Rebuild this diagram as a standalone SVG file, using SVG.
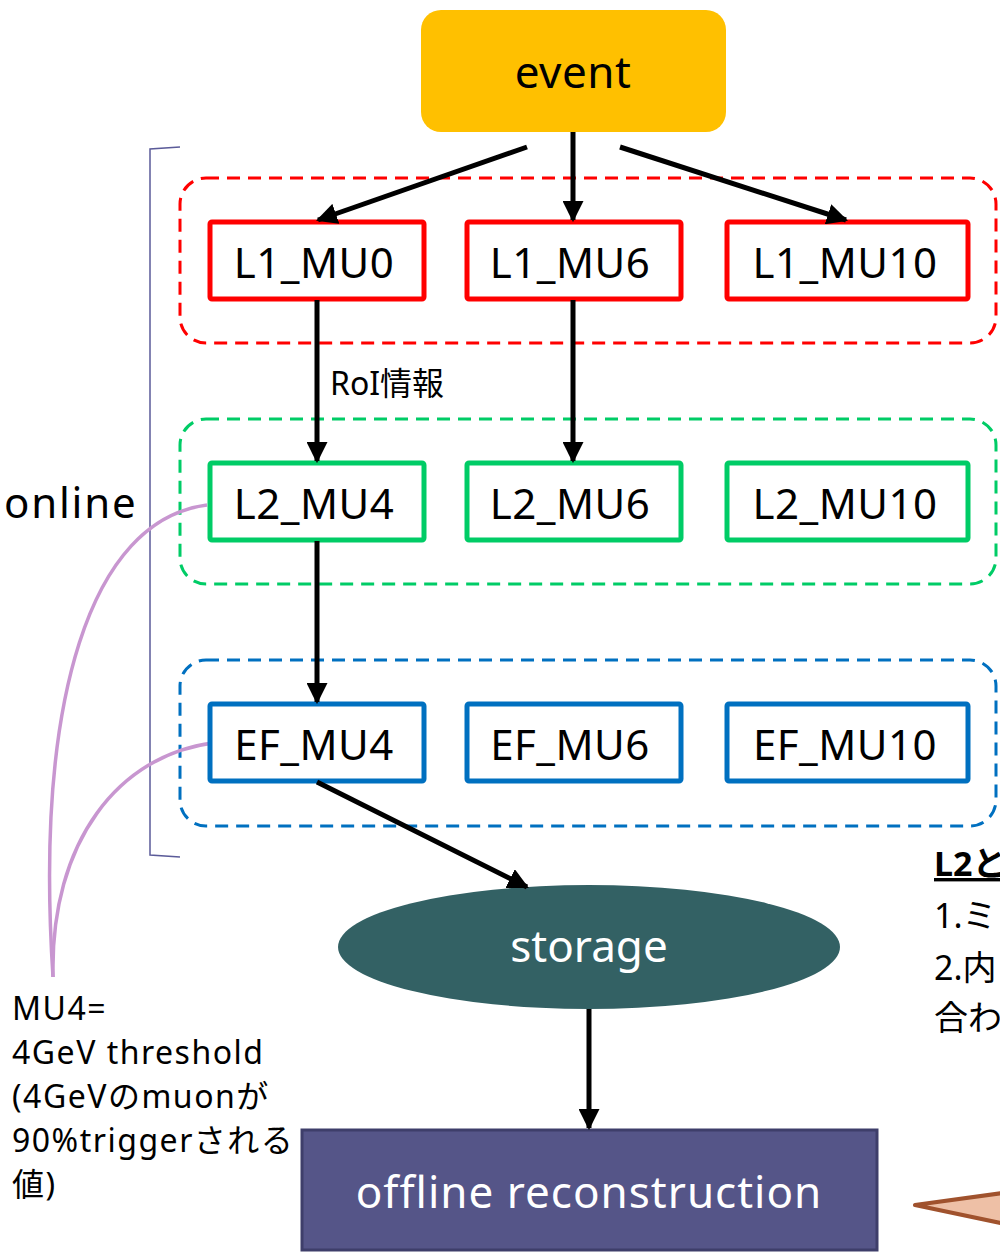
<svg xmlns="http://www.w3.org/2000/svg" width="1000" height="1254" viewBox="0 0 1000 1254">
<defs>
<marker id="ah" viewBox="0 0 10 10" refX="9" refY="5" markerWidth="4.2" markerHeight="4.2" orient="auto" markerUnits="strokeWidth">
<path d="M0,0 L10,5 L0,10 z" fill="#000"/>
</marker>
<style>
text{font-family:"Noto Sans","Noto Sans CJK JP",sans-serif;}
.lbl{font-size:42px;fill:#000;text-anchor:middle;letter-spacing:0.5px;}
.wlbl{font-size:44px;fill:#fff;text-anchor:middle;}
.grp{fill:none;stroke-width:3;stroke-dasharray:13 8;}
.box{fill:#fff;stroke-width:5;}
.red{stroke:#FF0000;}
.grn{stroke:#00CC66;}
.blu{stroke:#0070C0;}
.conn{stroke:#000;stroke-width:5;fill:none;marker-end:url(#ah);}
.note{font-size:32px;fill:#000;letter-spacing:1.5px;}
.rnote{font-size:34px;fill:#000;}
</style>
</defs>
<rect width="1000" height="1254" fill="#fff"/>

<!-- bracket -->
<path d="M180,147 L150,149 L150,855 L180,857" fill="none" stroke="#5B5B99" stroke-width="1.5"/>
<text x="4" y="518" style="font-size:42px;letter-spacing:1.8px">online</text>

<!-- groups -->
<rect class="grp red" x="180" y="178" width="816" height="165" rx="26"/>
<rect class="grp grn" x="180" y="419" width="816" height="165" rx="26"/>
<rect class="grp blu" x="180" y="660" width="816" height="166" rx="26"/>

<!-- pink callout curves -->
<g fill="none" stroke="#C896D0" stroke-width="3.5">
<path d="M207,505 C90,520 35,700 53,977"/>
<path d="M213,743 C120,755 50,840 53,977"/>
</g>

<g id="event"><rect x="421" y="10" width="305" height="122" rx="20" fill="#FFC000"/><text class="lbl" x="573" y="88" style="font-size:44px">event</text></g>

<g id="L1_MU0"><rect class="box red" x="210" y="222" width="214" height="77" rx="2"/><text class="lbl" x="314" y="278">L1_MU0</text></g>
<g id="L1_MU6"><rect class="box red" x="467" y="222" width="214" height="77" rx="2"/><text class="lbl" x="570" y="278">L1_MU6</text></g>
<g id="L1_MU10"><rect class="box red" x="727" y="222" width="241" height="77" rx="2"/><text class="lbl" x="845" y="278">L1_MU10</text></g>

<g id="L2_MU4"><rect class="box grn" x="210" y="463" width="214" height="77" rx="2"/><text class="lbl" x="314" y="519">L2_MU4</text></g>
<g id="L2_MU6"><rect class="box grn" x="467" y="463" width="214" height="77" rx="2"/><text class="lbl" x="570" y="519">L2_MU6</text></g>
<g id="L2_MU10"><rect class="box grn" x="727" y="463" width="241" height="77" rx="2"/><text class="lbl" x="845" y="519">L2_MU10</text></g>

<g id="EF_MU4"><rect class="box blu" x="210" y="704" width="214" height="77" rx="2"/><text class="lbl" x="314" y="760">EF_MU4</text></g>
<g id="EF_MU6"><rect class="box blu" x="467" y="704" width="214" height="77" rx="2"/><text class="lbl" x="570" y="760">EF_MU6</text></g>
<g id="EF_MU10"><rect class="box blu" x="727" y="704" width="241" height="77" rx="2"/><text class="lbl" x="845" y="760">EF_MU10</text></g>

<g id="storage"><ellipse cx="589" cy="947" rx="251" ry="62" fill="#336164"/><text class="wlbl" x="589" y="962">storage</text></g>

<g id="offline"><rect x="302" y="1130" width="575" height="120" fill="#555588" stroke="#3E3E6A" stroke-width="3"/><text class="wlbl" x="589" y="1208" style="letter-spacing:1px">offline reconstruction</text></g>

<!-- connectors -->
<g id="connectors">
<line class="conn" x1="527" y1="147" x2="318" y2="220"/>
<line class="conn" x1="573" y1="132" x2="573" y2="220"/>
<line class="conn" x1="620" y1="147" x2="846" y2="220"/>
<line class="conn" x1="317" y1="300" x2="317" y2="461"/>
<line class="conn" x1="573" y1="300" x2="573" y2="461"/>
<line class="conn" x1="317" y1="541" x2="317" y2="702"/>
<line class="conn" x1="317" y1="782" x2="527" y2="887"/>
<line class="conn" x1="589" y1="1009" x2="589" y2="1128"/>
</g>
<text x="330" y="395" style="font-size:32px">RoI情報</text>

<!-- left note -->
<g class="note">
<text class="note" x="12" y="1020">MU4=</text>
<text class="note" x="12" y="1064">4GeV threshold</text>
<text class="note" x="12" y="1108">(4GeVのmuonが</text>
<text class="note" x="12" y="1152">90%triggerされる</text>
<text class="note" x="12" y="1196">値)</text>
</g>

<!-- right note (clipped at the edge as in the source) -->
<text class="rnote" x="934" y="876" style="font-weight:bold;text-decoration:underline">L2と</text>
<text class="rnote" x="934" y="928">1.ミ</text>
<text class="rnote" x="934" y="980">2.内</text>
<text class="rnote" x="934" y="1030">合わ</text>

<!-- bottom-right callout -->
<polygon points="915,1205 1010,1192 1010,1225" fill="#EEC0A6" stroke="#A0522D" stroke-width="4" stroke-linejoin="round"/>
</svg>
